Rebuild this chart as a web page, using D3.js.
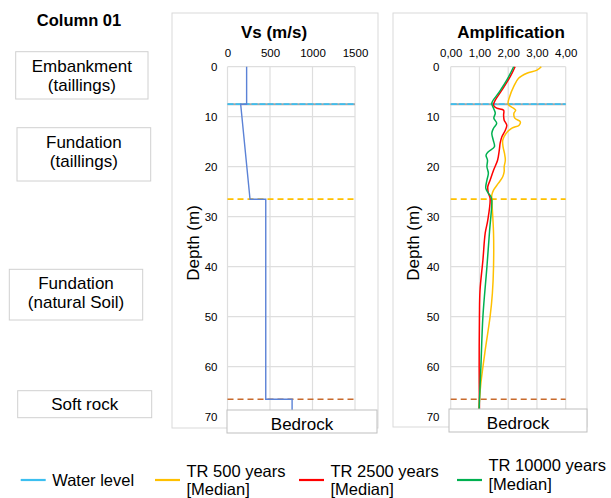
<!DOCTYPE html>
<html>
<head>
<meta charset="utf-8">
<script src="https://cdn.jsdelivr.net/npm/d3@7"></script>
<style>
  body { margin: 0; background: #fff; }
  text { font-family: "Liberation Sans", Arial, sans-serif; fill: #000; }
</style>
</head>
<body>
<div id="chart"></div>
<script>
// ---- data ----
const depthTicks = [0, 10, 20, 30, 40, 50, 60, 70];
const vsTicks = [0, 500, 1000, 1500];
const ampTicks = [0, 1, 2, 3, 4];

const waterLevel = 7.5;
const tailingsBase = 26.5;
const softRockTop = 66.5;

const vsDepth = [0, 7.5, 7.5, 26.5, 26.5, 66.5, 66.5, 70];
const vsValue = [225, 225, 155, 265, 450, 450, 760, 760];

const tr500Depth = [0, 0.7, 1.3, 2.3, 4, 6, 7.5, 8.3, 8.7, 9.3, 10.3, 11, 11.7, 12.3, 13.3, 14.7, 16, 17.3, 18.7, 20, 21, 22, 23.3, 24.7, 25.7, 26.5, 33.3, 40, 45.3, 50, 56.7, 63.3, 66.7, 68.5];
const tr500Value = [3.15, 3.0, 2.65, 2.36, 2.19, 2.05, 2.0, 2.18, 2.26, 2.2, 2.23, 2.42, 2.38, 2.13, 1.93, 1.81, 1.82, 1.87, 1.9, 1.86, 1.86, 1.81, 1.66, 1.49, 1.43, 1.43, 1.49, 1.49, 1.45, 1.37, 1.2, 1.05, 1.0, 0.98];

const tr2500Depth = [0, 2, 4.7, 6.7, 7.7, 8.3, 8.7, 9.7, 10.7, 11.7, 12.7, 14, 15.3, 16.7, 18.7, 20.7, 22.7, 24, 25.3, 26.3, 30.7, 33.3, 38.7, 44.7, 50, 60, 68.5];
const tr2500Value = [2.24, 2.07, 1.78, 1.55, 1.49, 1.6, 1.84, 1.84, 1.86, 1.95, 1.9, 1.78, 1.72, 1.69, 1.63, 1.49, 1.37, 1.29, 1.31, 1.37, 1.29, 1.2, 1.12, 1.02, 1.0, 0.99, 1.0];

const tr10000Depth = [0, 2.7, 5.3, 7.3, 8.3, 9.3, 10.3, 11.3, 12.3, 13.3, 14.7, 16, 17, 17.7, 18.7, 20, 21.3, 22.7, 24.3, 25.3, 26, 26.7, 33, 40, 50, 60, 66.7, 68.5];
const tr10000Value = [2.19, 1.95, 1.66, 1.43, 1.49, 1.55, 1.5, 1.6, 1.49, 1.43, 1.48, 1.52, 1.31, 1.23, 1.28, 1.26, 1.31, 1.26, 1.22, 1.31, 1.4, 1.43, 1.35, 1.26, 1.12, 1.05, 1.0, 0.99];

const layerNames = [["Embankment", "(taillings)"], ["Fundation", "(taillings)"], ["Fundation", "(natural Soil)"], ["Soft rock"]];
const legendNames = [["Water level"], ["TR 500 years", "[Median]"], ["TR 2500 years", "[Median]"], ["TR 10000 years", "[Median]"]];

// ---- drawing ----
const width = 611, height = 498;
const gridColor = "#dedede";
const frameColor = "#d9d9d9";
const colors = { water: "#3cbff0", tr500: "#ffc000", tr2500: "#ff0000", tr10000: "#00b050", vs: "#5b82d6", yellowDash: "#ffc000", orangeDash: "#c86a2c" };

const svg = d3.select("#chart").append("svg")
    .attr("width", width)
    .attr("height", height);

const y = d3.scaleLinear().domain([0, 70]).range([66.7, 416.7]);

function panel(opts) {
    const g = svg.append("g");
    const x = opts.x;

    // outer frame
    g.append("rect")
        .attr("x", opts.frame[0]).attr("y", opts.frame[1])
        .attr("width", opts.frame[2]).attr("height", opts.frame[3])
        .attr("fill", "#fff").attr("stroke", frameColor);

    // title
    g.append("text")
        .attr("x", opts.titleX).attr("y", 37.5)
        .attr("text-anchor", "middle")
        .style("font-size", "17px").style("font-weight", "bold")
        .text(opts.title);

    // grid
    g.append("g").selectAll("line.h")
        .data(depthTicks)
        .join("line")
        .attr("x1", x.range()[0]).attr("x2", x.range()[1])
        .attr("y1", d => y(d)).attr("y2", d => y(d))
        .attr("stroke", gridColor).attr("stroke-width", 1.2);
    g.append("g").selectAll("line.v")
        .data(opts.xTicks)
        .join("line")
        .attr("x1", d => x(d)).attr("x2", d => x(d))
        .attr("y1", y(0)).attr("y2", y(70))
        .attr("stroke", gridColor).attr("stroke-width", 1.2);

    // axes labels
    const xAxis = d3.axisTop(x).tickValues(opts.xTicks).tickSize(0).tickPadding(0).tickFormat(opts.fmt);
    g.append("g")
        .attr("transform", `translate(0, 56.5)`)
        .call(xAxis)
        .call(a => a.select(".domain").remove())
        .selectAll("text")
        .style("font-family", "'Liberation Sans', Arial, sans-serif")
        .style("font-size", "11.5px").attr("fill", "#262626");

    const yAxis = d3.axisLeft(y).tickValues(depthTicks).tickSize(0).tickPadding(0);
    g.append("g")
        .attr("transform", `translate(${opts.yLabelX}, 0)`)
        .call(yAxis)
        .call(a => a.select(".domain").remove())
        .selectAll("text")
        .style("font-family", "'Liberation Sans', Arial, sans-serif")
        .style("font-size", "11.5px").attr("fill", "#262626");

    g.append("text")
        .attr("transform", `translate(${opts.depthX}, 243) rotate(-90)`)
        .attr("text-anchor", "middle")
        .attr("dy", "0.35em")
        .style("font-size", "17px")
        .text("Depth (m)");

    // reference lines
    const [x0, x1] = x.range();
    g.append("line").attr("x1", x0).attr("x2", x1)
        .attr("y1", y(waterLevel)).attr("y2", y(waterLevel))
        .attr("stroke", "#a6a6a6").attr("stroke-width", 2);
    g.append("line").attr("x1", x0).attr("x2", x1)
        .attr("y1", y(waterLevel)).attr("y2", y(waterLevel))
        .attr("stroke", colors.water).attr("stroke-width", 1.8)
        .attr("stroke-dasharray", "6,2");
    g.append("line").attr("x1", x0).attr("x2", x1)
        .attr("y1", y(tailingsBase)).attr("y2", y(tailingsBase))
        .attr("stroke", colors.yellowDash).attr("stroke-width", 1.8)
        .attr("stroke-dasharray", "6,4");
    g.append("line").attr("x1", x0).attr("x2", x1)
        .attr("y1", y(softRockTop)).attr("y2", y(softRockTop))
        .attr("stroke", colors.orangeDash).attr("stroke-width", 1.6)
        .attr("stroke-dasharray", "6,4");

    return g;
}

// Vs panel
const xVs = d3.scaleLinear().domain([0, 1500]).range([227.5, 355]);
const gVs = panel({
    x: xVs, xTicks: vsTicks, fmt: d3.format("d"),
    frame: [172, 13, 206, 415], title: "Vs (m/s)", titleX: 274,
    yLabelX: 217.5, depthX: 193
});
const vsLine = d3.line().x(d => xVs(d[1])).y(d => y(d[0]));
gVs.append("path")
    .datum(d3.zip(vsDepth, vsValue))
    .attr("d", vsLine)
    .attr("fill", "none").attr("stroke", colors.vs).attr("stroke-width", 1.4);

// Amplification panel
const xAmp = d3.scaleLinear().domain([0, 4]).range([450.7, 565.7]);
const gAmp = panel({
    x: xAmp, xTicks: ampTicks, fmt: d => d3.format(".2f")(d).replace(".", ","),
    frame: [393, 13, 194, 414], title: "Amplification", titleX: 511,
    yLabelX: 439.5, depthX: 413
});
const ampLine = d3.line().x(d => xAmp(d[1])).y(d => y(d[0])).curve(d3.curveCatmullRom.alpha(0.5));
const ampSeries = [
    { depth: tr500Depth, value: tr500Value, color: colors.tr500 },
    { depth: tr2500Depth, value: tr2500Value, color: colors.tr2500 },
    { depth: tr10000Depth, value: tr10000Value, color: colors.tr10000 }
];
gAmp.selectAll("path.amp")
    .data(ampSeries)
    .join("path")
    .attr("class", "amp")
    .attr("d", s => ampLine(d3.zip(s.depth, s.value)))
    .attr("fill", "none").attr("stroke", s => s.color).attr("stroke-width", 1.5);

// Bedrock boxes
[[227, 410, 150, 23, 302], [449, 409, 138, 23, 518]].forEach(b => {
    svg.append("rect")
        .attr("x", b[0]).attr("y", b[1]).attr("width", b[2]).attr("height", b[3])
        .attr("fill", "#fff").attr("stroke", "#bfbfbf");
    svg.append("text")
        .attr("x", b[4]).attr("y", b[1] + 19.5)
        .attr("text-anchor", "middle")
        .style("font-size", "17px")
        .text("Bedrock");
});

// left column labels
svg.append("text")
    .attr("x", 79).attr("y", 26)
    .attr("text-anchor", "middle")
    .style("font-size", "16.5px").style("font-weight", "bold")
    .text("Column 01");

const layerBoxes = [[15.7, 51.7, 132.3, 47.3, 71.7], [17, 127.7, 133.7, 53.3, 147.7], [9.3, 269.3, 133.4, 50.7, 289], [17.7, 390.7, 134, 27, 410]];
layerNames.forEach((lines, i) => {
    const b = layerBoxes[i];
    svg.append("rect")
        .attr("x", b[0]).attr("y", b[1]).attr("width", b[2]).attr("height", b[3])
        .attr("fill", "#fff").attr("stroke", "#d0d0d0");
    const t = svg.append("text")
        .attr("text-anchor", "middle")
        .style("font-size", "17px");
    lines.forEach((s, j) => {
        t.append("tspan")
            .attr("x", b[0] + b[2] / 2)
            .attr("y", b[4] + j * 19)
            .text(s);
    });
});

// legend
const legendColors = [colors.water, colors.tr500, colors.tr2500, colors.tr10000];
const legendX = [20.7, 155, 299, 457];
const legendTextY = [486, 476.7, 476.7, 471];
const legend = svg.append("g");
legendNames.forEach((lines, i) => {
    legend.append("line")
        .attr("x1", legendX[i]).attr("x2", legendX[i] + 25)
        .attr("y1", 480).attr("y2", 480)
        .attr("stroke", legendColors[i]).attr("stroke-width", 2.2);
    const t = legend.append("text").style("font-size", "16.5px");
    lines.forEach((s, j) => {
        t.append("tspan")
            .attr("x", legendX[i] + 31.5)
            .attr("y", legendTextY[i] + j * 18.5)
            .text(s);
    });
});
</script>
</body>
</html>
